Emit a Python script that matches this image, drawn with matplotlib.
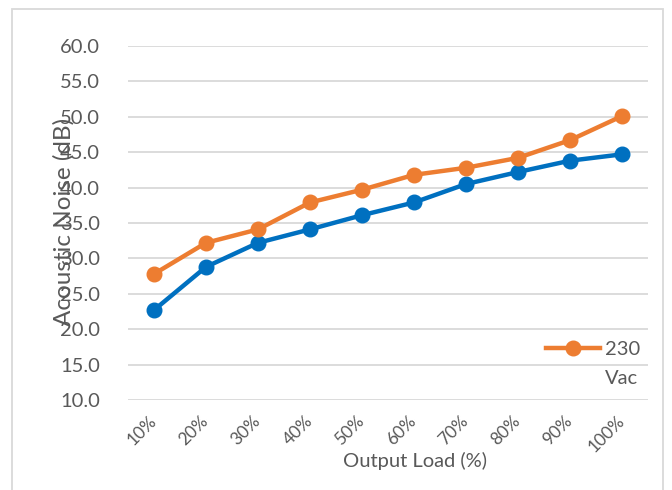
import matplotlib
matplotlib.use("Agg")
import matplotlib.pyplot as plt
from matplotlib.patches import Rectangle

loads = ["10%", "20%", "30%", "40%", "50%", "60%", "70%", "80%", "90%", "100%"]
noise_115 = [22.7, 28.8, 32.2, 34.1, 36.1, 37.9, 40.5, 42.2, 43.8, 44.7]
noise_230 = [27.8, 32.2, 34.1, 37.9, 39.7, 41.8, 42.8, 44.2, 46.7, 50.1]
y_ticks = [10, 15, 20, 25, 30, 35, 40, 45, 50, 55, 60]

BLUE = "#0070C0"
ORANGE = "#ED7D31"
GREY = "#595959"

plt.rcParams['font.family'] = ['Lato', 'DejaVu Sans']

W, H = 672, 490
fig = plt.figure(figsize=(W / 100, H / 100), dpi=100)
ax = fig.add_axes([128 / W, 1 - 400 / H, 520 / W, 354 / H])

x = range(len(loads))
ax.plot(x, noise_115, color=BLUE, lw=3.2, marker="o", ms=10.5, zorder=3)
line230, = ax.plot(x, noise_230, color=ORANGE, lw=3.2, marker="o", ms=10.5, zorder=3)

ax.set_xlim(-0.5, len(loads) - 0.5)
ax.set_ylim(10, 60)
ax.set_yticks(y_ticks)
ax.set_yticklabels([f"{v:.1f}" for v in y_ticks], fontsize=14.5, color=GREY)
ax.set_xticks(list(x))
ax.set_xticklabels(loads, rotation=45, fontsize=12.5, color=GREY,
                   ha="right", va="center", rotation_mode="anchor")
ax.tick_params(length=0)
ax.tick_params(axis="x", pad=13)
ax.tick_params(axis="y", pad=20)
ax.grid(axis="y", color="#D9D9D9", lw=1.3)
ax.set_axisbelow(True)
for s in ax.spines.values():
    s.set_visible(False)

fig.text(64 / W, 1 - 222 / H, "Acoustic Noise (dB)", rotation=90,
         ha="center", va="center", fontsize=17.5, color=GREY)
fig.text(415 / W, 1 - 461 / H, "Output Load (%)",
         ha="center", va="center", fontsize=14.5, color=GREY)

leg = fig.legend([line230], ["230"], loc="center left",
                 bbox_to_anchor=(546 / W, 1 - 349 / H), frameon=False,
                 fontsize=14.5, handlelength=2.7, handletextpad=0.25,
                 borderpad=0, borderaxespad=0)
for t in leg.get_texts():
    t.set_color(GREY)
fig.text(605 / W, 1 - 378 / H, "Vac", ha="left", va="center",
         fontsize=14.5, color=GREY)

fig.patches.append(Rectangle((12 / W, -0.05), 651 / W, 1.05 - 9 / H,
                             transform=fig.transFigure, fill=False,
                             edgecolor="#D9D9D9", lw=1.3))

fig.savefig("out.png", dpi=100)
